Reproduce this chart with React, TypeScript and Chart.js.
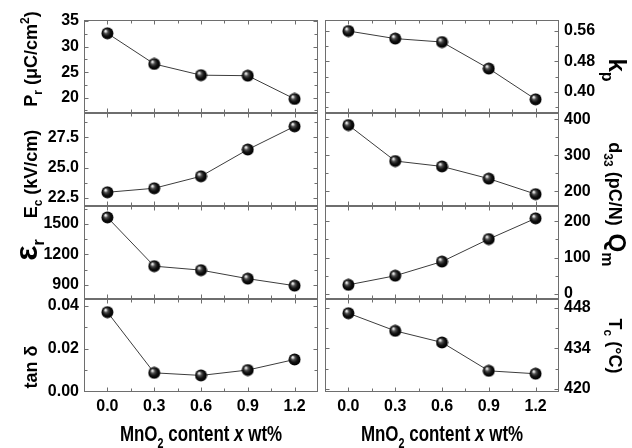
import React, { useEffect, useRef } from 'react';
import { Chart, registerables } from 'chart.js';

Chart.register(...registerables);

// ---------- data ----------
const xValues = [0, 0.3, 0.6, 0.9, 1.2];
const xTickLabels = ['0.0', '0.3', '0.6', '0.9', '1.2'];
const xMinorTicks = [0.15, 0.45, 0.75, 1.05];

const prValues = [32.6, 26.6, 24.4, 24.3, 19.75];
const ecValues = [22.97, 23.3, 24.29, 26.49, 28.4];
const erValues = [1565, 1085, 1046, 962, 893];
const tanValues = [0.0371, 0.0089, 0.0077, 0.0102, 0.0151];
const kpValues = [0.56, 0.54, 0.531, 0.461, 0.38];
const d33Values = [384, 284, 269, 235, 192];
const qmValues = [25, 50, 89, 151, 208];
const tcValues = [446.1, 440.0, 436.0, 426.2, 425.2];

const prTicks = [20, 25, 30, 35];
const ecTicks = [22.5, 25.0, 27.5];
const erTicks = [900, 1200, 1500];
const tanTicks = [0.0, 0.02, 0.04];
const kpTicks = [0.4, 0.48, 0.56];
const d33Ticks = [200, 300, 400];
const qmTicks = [0, 100, 200];
const tcTicks = [420, 434, 448];

const W = 632;
const H = 448;
const SANS = "'Liberation Sans', Arial, sans-serif";
const FRAME = '#6e6e6e';
const AXIS_W = 60;
const AXIS_H = 30;

type Seg = [string, string];

const colLeft = { l: 84, r: 318 };
const colRight = { l: 325, r: 559 };
const rowEdges = [20, 113, 206, 299, 392];

interface Panel {
  values: number[];
  ticks: number[];
  min: number;
  max: number;
  minor: number;
  dec: number;
  side: 'left' | 'right';
  row: number;
  title: Seg[];
  titleSize: number;
  titleCenter: number;
}

const panels: Panel[] = [
  { values: prValues, ticks: prTicks, min: 17, max: 35.2, minor: 2.5, dec: 0, side: 'left', row: 0,
    title: [['P', 'n'], ['r', 'sub'], [' (\u03BCC/cm', 'n'], ['2', 'sup'], [')', 'n']], titleSize: 18, titleCenter: 59 },
  { values: ecValues, ticks: ecTicks, min: 21.84, max: 29.5, minor: 1.25, dec: 1, side: 'left', row: 1,
    title: [['E', 'n'], ['c', 'sub'], [' (kV/cm)', 'n']], titleSize: 18, titleCenter: 174 },
  { values: erValues, ticks: erTicks, min: 762, max: 1677, minor: 150, dec: 0, side: 'left', row: 2,
    title: [['\u03B5', 'big'], ['r', 'sub']], titleSize: 24, titleCenter: 250 },
  { values: tanValues, ticks: tanTicks, min: 0, max: 0.0432, minor: 0.01, dec: 2, side: 'left', row: 3,
    title: [['tan \u03B4', 'n']], titleSize: 18, titleCenter: 367 },
  { values: kpValues, ticks: kpTicks, min: 0.344, max: 0.589, minor: 0.04, dec: 2, side: 'right', row: 0,
    title: [['k', 'n'], ['p', 'sub']], titleSize: 24, titleCenter: 70 },
  { values: d33Values, ticks: d33Ticks, min: 159, max: 417.5, minor: 50, dec: 0, side: 'right', row: 1,
    title: [['d', 'n'], ['33', 'sub'], [' (pC/N)', 'n']], titleSize: 18, titleCenter: 184 },
  { values: qmValues, ticks: qmTicks, min: -14, max: 242, minor: 50, dec: 0, side: 'right', row: 2,
    title: [['Q', 'n'], ['m', 'sub']], titleSize: 24, titleCenter: 250 },
  { values: tcValues, ticks: tcTicks, min: 418.9, max: 451, minor: 7, dec: 0, side: 'right', row: 3,
    title: [['T', 'n'], ['c', 'sub'], [' (\u00B0C)', 'n']], titleSize: 18, titleCenter: 346 },
];

const xTitle: Seg[] = [['MnO', 'n'], ['2', 'sub'], [' content ', 'n'], ['x', 'i'], [' wt%', 'n']];

function segFont(kind: string, size: number, family: string) {
  if (kind === 'sub' || kind === 'sup') return `bold ${Math.round(size * 0.65)}px ${family}`;
  if (kind === 'i') return `italic bold ${size}px ${family}`;
  if (kind === 'big') return `bold ${Math.round(size * 1.35)}px ${family}`;
  return `bold ${size}px ${family}`;
}

function drawRich(
  ctx: CanvasRenderingContext2D, segs: Seg[], x: number, y: number, rot: number,
  size: number, family: string, sx = 1,
) {
  ctx.save();
  ctx.translate(x, y);
  ctx.rotate(rot);
  ctx.scale(sx, 1);
  ctx.fillStyle = '#000';
  ctx.textBaseline = 'alphabetic';
  ctx.textAlign = 'left';
  let total = 0;
  const widths: number[] = [];
  for (const [t, k] of segs) {
    ctx.font = segFont(k, size, family);
    const w = ctx.measureText(t).width;
    widths.push(w);
    total += w;
  }
  let cx = -total / 2;
  segs.forEach(([t, k], i) => {
    ctx.font = segFont(k, size, family);
    let dy = 0;
    if (k === 'sub') dy = size * 0.3;
    if (k === 'sup') dy = -size * 0.45;
    ctx.fillText(t, cx, dy);
    cx += widths[i];
  });
  ctx.restore();
}

function makeBall() {
  const c = document.createElement('canvas');
  c.width = 13;
  c.height = 13;
  const g = c.getContext('2d')!;
  const grad = g.createRadialGradient(4.3, 4.0, 0, 6.5, 6.5, 6.5);
  grad.addColorStop(0, '#ffffff');
  grad.addColorStop(0.12, '#e0e0e0');
  grad.addColorStop(0.32, '#505050');
  grad.addColorStop(0.6, '#121212');
  grad.addColorStop(0.88, '#000000');
  grad.addColorStop(1, '#2a2a2a');
  g.fillStyle = grad;
  g.beginPath();
  g.arc(6.5, 6.5, 6, 0, Math.PI * 2);
  g.fill();
  return c;
}

const decoPlugin = {
  id: 'deco',
  beforeDatasetsDraw(chart: any) {
    const cfg = chart.options.plugins.deco;
    const { ctx, chartArea: a, scales } = chart;
    const L = Math.round(a.left) + 0.5;
    const R = Math.round(a.right) - 0.5;
    const T = Math.round(a.top) + 0.5;
    const B = Math.round(a.bottom) - 0.5;
    ctx.save();
    ctx.strokeStyle = FRAME;
    ctx.lineWidth = 1;
    ctx.strokeRect(L, T, R - L, B - T);
    ctx.beginPath();
    const xt = (v: number, len: number) => {
      const px = Math.round(scales.x.getPixelForValue(v)) + 0.5;
      ctx.moveTo(px, B); ctx.lineTo(px, B - len);
      ctx.moveTo(px, T); ctx.lineTo(px, T + len);
    };
    xValues.forEach((v) => xt(v, 4));
    xMinorTicks.forEach((v) => xt(v, 3));
    const yt = (v: number, len: number) => {
      const py = Math.round(scales.y.getPixelForValue(v)) + 0.5;
      if (py < T - 0.1 || py > B + 0.1) return;
      ctx.moveTo(L, py); ctx.lineTo(L + len, py);
      ctx.moveTo(R, py); ctx.lineTo(R - len, py);
    };
    const p: Panel = cfg.panel;
    const k0 = Math.ceil(p.min / p.minor - 1e-9);
    const k1 = Math.floor(p.max / p.minor + 1e-9);
    for (let k = k0; k <= k1; k++) {
      const v = k * p.minor;
      const isMajor = p.ticks.some((t) => Math.abs(t - v) < p.minor * 1e-3);
      yt(v, isMajor ? 4 : 3);
    }
    ctx.stroke();
    ctx.restore();
  },
  afterDraw(chart: any) {
    const cfg = chart.options.plugins.deco;
    const p: Panel = cfg.panel;
    const { ctx, chartArea: a } = chart;
    if (p.side === 'left') {
      drawRich(ctx, p.title, 37, p.titleCenter, -Math.PI / 2, p.titleSize, SANS);
    } else {
      drawRich(ctx, p.title, 609, p.titleCenter, Math.PI / 2, p.titleSize, SANS);
    }
    if (p.row === 3) {
      drawRich(ctx, xTitle, (a.left + a.right) / 2, 441, 0, 22, SANS, 0.77);
    }
  },
};

export default function App() {
  const refs = useRef<(HTMLCanvasElement | null)[]>([]);

  useEffect(() => {
    document.body.style.margin = '0';
    const ball = makeBall();
    const tickFont = { family: SANS, size: 16, weight: 'bold' as const };
    const charts = panels.map((p, idx) => {
      const col = p.side === 'left' ? colLeft : colRight;
      const top = rowEdges[p.row];
      const bottom = rowEdges[p.row + 1];
      const canvas = refs.current[idx]!;
      const padding = {
        left: p.side === 'left' ? col.l - AXIS_W : col.l,
        right: p.side === 'right' ? W - col.r - AXIS_W : W - col.r,
        top,
        bottom: H - bottom - AXIS_H,
      };
      return new Chart(canvas, {
        type: 'line',
        data: {
          datasets: [
            {
              data: xValues.map((x, i) => ({ x, y: p.values[i] })),
              borderColor: '#3c3c3c',
              borderWidth: 1,
              pointStyle: ball as any,
              pointRadius: 6,
              pointHoverRadius: 6,
              tension: 0,
              clip: false as any,
            },
          ],
        },
        options: {
          responsive: false,
          animation: false,
          devicePixelRatio: 1,
          events: [],
          layout: { padding },
          plugins: {
            legend: { display: false },
            tooltip: { enabled: false },
            deco: { panel: p },
          } as any,
          scales: {
            x: {
              type: 'linear',
              min: -0.15,
              max: 1.35,
              afterBuildTicks: (s: any) => {
                s.ticks = xValues.map((v) => ({ value: v }));
              },
              afterFit: (s: any) => {
                s.height = AXIS_H;
              },
              grid: { display: false, drawTicks: false },
              border: { display: false },
              ticks: {
                display: p.row === 3,
                autoSkip: false,
                maxRotation: 0,
                padding: 5,
                color: '#000',
                font: tickFont,
                callback: (_v: any, i: number) => xTickLabels[i],
              },
            },
            y: {
              type: 'linear',
              position: p.side,
              min: p.min,
              max: p.max,
              afterBuildTicks: (s: any) => {
                s.ticks = p.ticks.map((v) => ({ value: v }));
              },
              afterFit: (s: any) => {
                s.width = AXIS_W;
              },
              grid: { display: false, drawTicks: false },
              border: { display: false },
              ticks: {
                autoSkip: false,
                padding: 5,
                color: '#000',
                font: tickFont,
                callback: (_v: any, i: number) => p.ticks[i].toFixed(p.dec),
              },
            },
          },
        },
        plugins: [decoPlugin as any],
      });
    });
    return () => charts.forEach((c) => c.destroy());
  }, []);

  return (
    <div style={{ position: 'fixed', left: 0, top: 0, width: W, height: H, background: '#fff' }}>
      {panels.map((_, i) => (
        <canvas
          key={i}
          ref={(el) => {
            refs.current[i] = el;
          }}
          width={W}
          height={H}
          style={{ position: 'absolute', left: 0, top: 0, width: W, height: H }}
        />
      ))}
    </div>
  );
}
